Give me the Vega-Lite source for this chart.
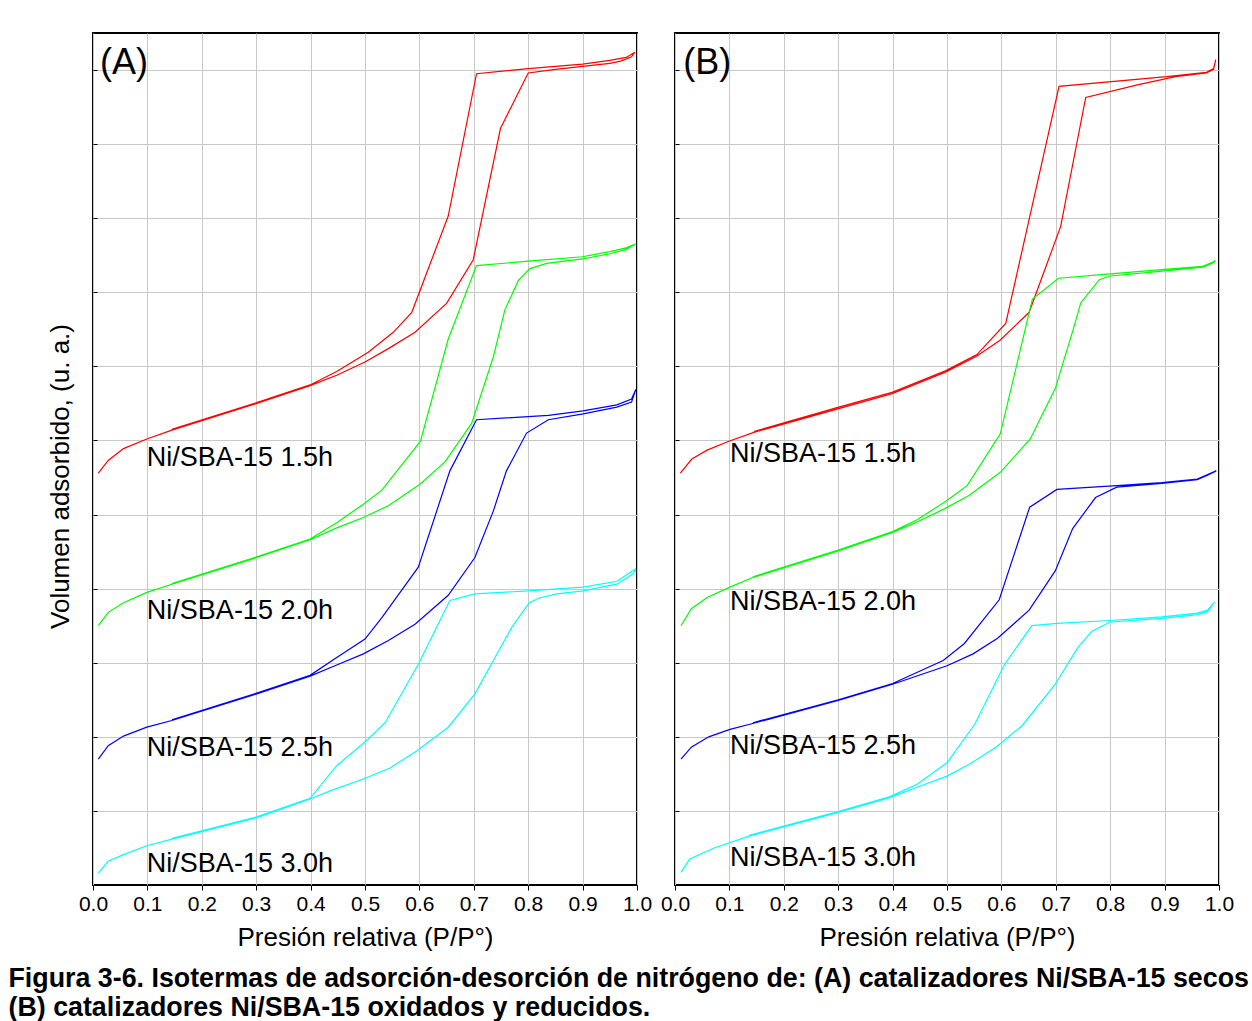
{
  "$schema": "https://vega.github.io/schema/vega-lite/v6.json",
  "background": "white",
  "padding": {"left": 8, "top": 32, "right": 0, "bottom": 4},
  "datasets": {
    "iso": [
      {"p":"A","s":"1.5h","x":0.0098,"y":5.56},{"p":"A","s":"1.5h","x":0.028,"y":5.73},{"p":"A","s":"1.5h","x":0.056,"y":5.89},{"p":"A","s":"1.5h","x":0.099,"y":6.02},{"p":"A","s":"1.5h","x":0.145,"y":6.14},{"p":"A","s":"1.5h","x":0.301,"y":6.50},{"p":"A","s":"1.5h","x":0.399,"y":6.74},{"p":"A","s":"1.5h","x":0.448,"y":6.88},{"p":"A","s":"1.5h","x":0.5,"y":7.06},{"p":"A","s":"1.5h","x":0.543,"y":7.24},{"p":"A","s":"1.5h","x":0.592,"y":7.46},{"p":"A","s":"1.5h","x":0.65,"y":7.85},{"p":"A","s":"1.5h","x":0.699,"y":8.44},{"p":"A","s":"1.5h","x":0.749,"y":10.21},{"p":"A","s":"1.5h","x":0.80,"y":10.96},{"p":"A","s":"1.5h","x":0.85,"y":11.01},{"p":"A","s":"1.5h","x":0.90,"y":11.05},{"p":"A","s":"1.5h","x":0.95,"y":11.09},{"p":"A","s":"1.5h","x":0.97,"y":11.12},{"p":"A","s":"1.5h","x":0.99,"y":11.18},{"p":"A","s":"1.5h","x":0.996,"y":11.24},
      {"p":"A","s":"1.5h","x":0.98,"y":11.17},{"p":"A","s":"1.5h","x":0.95,"y":11.13},{"p":"A","s":"1.5h","x":0.90,"y":11.08},{"p":"A","s":"1.5h","x":0.80,"y":11.02},{"p":"A","s":"1.5h","x":0.705,"y":10.95},{"p":"A","s":"1.5h","x":0.653,"y":9.03},{"p":"A","s":"1.5h","x":0.586,"y":7.73},{"p":"A","s":"1.5h","x":0.552,"y":7.46},{"p":"A","s":"1.5h","x":0.506,"y":7.19},{"p":"A","s":"1.5h","x":0.448,"y":6.93},{"p":"A","s":"1.5h","x":0.399,"y":6.75},{"p":"A","s":"1.5h","x":0.301,"y":6.51},{"p":"A","s":"1.5h","x":0.145,"y":6.15},

      {"p":"A","s":"2.0h","x":0.0098,"y":3.50},{"p":"A","s":"2.0h","x":0.028,"y":3.68},{"p":"A","s":"2.0h","x":0.056,"y":3.81},{"p":"A","s":"2.0h","x":0.099,"y":3.95},{"p":"A","s":"2.0h","x":0.145,"y":4.06},{"p":"A","s":"2.0h","x":0.301,"y":4.42},{"p":"A","s":"2.0h","x":0.399,"y":4.66},{"p":"A","s":"2.0h","x":0.448,"y":4.82},{"p":"A","s":"2.0h","x":0.497,"y":4.96},{"p":"A","s":"2.0h","x":0.543,"y":5.12},{"p":"A","s":"2.0h","x":0.601,"y":5.41},{"p":"A","s":"2.0h","x":0.647,"y":5.71},{"p":"A","s":"2.0h","x":0.696,"y":6.23},{"p":"A","s":"2.0h","x":0.736,"y":7.13},{"p":"A","s":"2.0h","x":0.757,"y":7.76},{"p":"A","s":"2.0h","x":0.782,"y":8.16},{"p":"A","s":"2.0h","x":0.803,"y":8.32},{"p":"A","s":"2.0h","x":0.834,"y":8.39},{"p":"A","s":"2.0h","x":0.90,"y":8.45},{"p":"A","s":"2.0h","x":0.95,"y":8.52},{"p":"A","s":"2.0h","x":0.98,"y":8.58},{"p":"A","s":"2.0h","x":0.997,"y":8.65},
      {"p":"A","s":"2.0h","x":0.98,"y":8.60},{"p":"A","s":"2.0h","x":0.95,"y":8.55},{"p":"A","s":"2.0h","x":0.90,"y":8.48},{"p":"A","s":"2.0h","x":0.80,"y":8.42},{"p":"A","s":"2.0h","x":0.705,"y":8.36},{"p":"A","s":"2.0h","x":0.653,"y":7.37},{"p":"A","s":"2.0h","x":0.602,"y":5.99},{"p":"A","s":"2.0h","x":0.531,"y":5.33},{"p":"A","s":"2.0h","x":0.497,"y":5.14},{"p":"A","s":"2.0h","x":0.448,"y":4.89},{"p":"A","s":"2.0h","x":0.399,"y":4.67},{"p":"A","s":"2.0h","x":0.301,"y":4.43},{"p":"A","s":"2.0h","x":0.145,"y":4.07},

      {"p":"A","s":"2.5h","x":0.0098,"y":1.70},{"p":"A","s":"2.5h","x":0.028,"y":1.88},{"p":"A","s":"2.5h","x":0.056,"y":2.01},{"p":"A","s":"2.5h","x":0.099,"y":2.13},{"p":"A","s":"2.5h","x":0.145,"y":2.22},{"p":"A","s":"2.5h","x":0.301,"y":2.58},{"p":"A","s":"2.5h","x":0.399,"y":2.82},{"p":"A","s":"2.5h","x":0.448,"y":2.97},{"p":"A","s":"2.5h","x":0.497,"y":3.12},{"p":"A","s":"2.5h","x":0.543,"y":3.30},{"p":"A","s":"2.5h","x":0.592,"y":3.52},{"p":"A","s":"2.5h","x":0.653,"y":3.91},{"p":"A","s":"2.5h","x":0.702,"y":4.42},{"p":"A","s":"2.5h","x":0.736,"y":5.05},{"p":"A","s":"2.5h","x":0.760,"y":5.59},{"p":"A","s":"2.5h","x":0.797,"y":6.10},{"p":"A","s":"2.5h","x":0.837,"y":6.28},{"p":"A","s":"2.5h","x":0.901,"y":6.36},{"p":"A","s":"2.5h","x":0.963,"y":6.45},{"p":"A","s":"2.5h","x":0.99,"y":6.52},{"p":"A","s":"2.5h","x":0.998,"y":6.69},
      {"p":"A","s":"2.5h","x":0.99,"y":6.56},{"p":"A","s":"2.5h","x":0.963,"y":6.48},{"p":"A","s":"2.5h","x":0.901,"y":6.40},{"p":"A","s":"2.5h","x":0.837,"y":6.34},{"p":"A","s":"2.5h","x":0.705,"y":6.28},{"p":"A","s":"2.5h","x":0.656,"y":5.59},{"p":"A","s":"2.5h","x":0.598,"y":4.29},{"p":"A","s":"2.5h","x":0.531,"y":3.61},{"p":"A","s":"2.5h","x":0.5,"y":3.32},{"p":"A","s":"2.5h","x":0.448,"y":3.07},{"p":"A","s":"2.5h","x":0.399,"y":2.83},{"p":"A","s":"2.5h","x":0.301,"y":2.59},{"p":"A","s":"2.5h","x":0.145,"y":2.23},

      {"p":"A","s":"3.0h","x":0.0098,"y":0.165},{"p":"A","s":"3.0h","x":0.028,"y":0.32},{"p":"A","s":"3.0h","x":0.056,"y":0.41},{"p":"A","s":"3.0h","x":0.099,"y":0.53},{"p":"A","s":"3.0h","x":0.145,"y":0.62},{"p":"A","s":"3.0h","x":0.301,"y":0.91},{"p":"A","s":"3.0h","x":0.399,"y":1.16},{"p":"A","s":"3.0h","x":0.436,"y":1.27},{"p":"A","s":"3.0h","x":0.497,"y":1.43},{"p":"A","s":"3.0h","x":0.546,"y":1.58},{"p":"A","s":"3.0h","x":0.595,"y":1.81},{"p":"A","s":"3.0h","x":0.653,"y":2.13},{"p":"A","s":"3.0h","x":0.702,"y":2.58},{"p":"A","s":"3.0h","x":0.736,"y":3.03},{"p":"A","s":"3.0h","x":0.770,"y":3.48},{"p":"A","s":"3.0h","x":0.802,"y":3.81},{"p":"A","s":"3.0h","x":0.819,"y":3.87},{"p":"A","s":"3.0h","x":0.852,"y":3.93},{"p":"A","s":"3.0h","x":0.901,"y":3.97},{"p":"A","s":"3.0h","x":0.963,"y":4.06},{"p":"A","s":"3.0h","x":0.993,"y":4.20},{"p":"A","s":"3.0h","x":0.998,"y":4.27},
      {"p":"A","s":"3.0h","x":0.99,"y":4.23},{"p":"A","s":"3.0h","x":0.963,"y":4.10},{"p":"A","s":"3.0h","x":0.901,"y":4.02},{"p":"A","s":"3.0h","x":0.80,"y":3.97},{"p":"A","s":"3.0h","x":0.702,"y":3.93},{"p":"A","s":"3.0h","x":0.656,"y":3.84},{"p":"A","s":"3.0h","x":0.598,"y":2.98},{"p":"A","s":"3.0h","x":0.537,"y":2.19},{"p":"A","s":"3.0h","x":0.503,"y":1.95},{"p":"A","s":"3.0h","x":0.448,"y":1.61},{"p":"A","s":"3.0h","x":0.399,"y":1.17},{"p":"A","s":"3.0h","x":0.301,"y":0.92},{"p":"A","s":"3.0h","x":0.145,"y":0.63},

      {"p":"B","s":"1.5h","x":0.0098,"y":5.56},{"p":"B","s":"1.5h","x":0.031,"y":5.75},{"p":"B","s":"1.5h","x":0.059,"y":5.87},{"p":"B","s":"1.5h","x":0.099,"y":5.99},{"p":"B","s":"1.5h","x":0.145,"y":6.11},{"p":"B","s":"1.5h","x":0.301,"y":6.43},{"p":"B","s":"1.5h","x":0.399,"y":6.63},{"p":"B","s":"1.5h","x":0.497,"y":6.92},{"p":"B","s":"1.5h","x":0.555,"y":7.14},{"p":"B","s":"1.5h","x":0.597,"y":7.35},{"p":"B","s":"1.5h","x":0.651,"y":7.73},{"p":"B","s":"1.5h","x":0.709,"y":8.89},{"p":"B","s":"1.5h","x":0.755,"y":10.63},{"p":"B","s":"1.5h","x":0.85,"y":10.80},{"p":"B","s":"1.5h","x":0.92,"y":10.91},{"p":"B","s":"1.5h","x":0.977,"y":10.96},{"p":"B","s":"1.5h","x":0.99,"y":11.01},{"p":"B","s":"1.5h","x":0.994,"y":11.14},
      {"p":"B","s":"1.5h","x":0.99,"y":11.02},{"p":"B","s":"1.5h","x":0.977,"y":10.97},{"p":"B","s":"1.5h","x":0.904,"y":10.91},{"p":"B","s":"1.5h","x":0.706,"y":10.78},{"p":"B","s":"1.5h","x":0.608,"y":7.58},{"p":"B","s":"1.5h","x":0.555,"y":7.16},{"p":"B","s":"1.5h","x":0.497,"y":6.94},{"p":"B","s":"1.5h","x":0.399,"y":6.65},{"p":"B","s":"1.5h","x":0.301,"y":6.45},{"p":"B","s":"1.5h","x":0.145,"y":6.12},

      {"p":"B","s":"2.0h","x":0.011,"y":3.50},{"p":"B","s":"2.0h","x":0.030,"y":3.73},{"p":"B","s":"2.0h","x":0.059,"y":3.88},{"p":"B","s":"2.0h","x":0.101,"y":4.02},{"p":"B","s":"2.0h","x":0.143,"y":4.15},{"p":"B","s":"2.0h","x":0.300,"y":4.51},{"p":"B","s":"2.0h","x":0.400,"y":4.76},{"p":"B","s":"2.0h","x":0.445,"y":4.90},{"p":"B","s":"2.0h","x":0.496,"y":5.08},{"p":"B","s":"2.0h","x":0.541,"y":5.26},{"p":"B","s":"2.0h","x":0.598,"y":5.57},{"p":"B","s":"2.0h","x":0.653,"y":6.02},{"p":"B","s":"2.0h","x":0.699,"y":6.70},{"p":"B","s":"2.0h","x":0.732,"y":7.50},{"p":"B","s":"2.0h","x":0.746,"y":7.86},{"p":"B","s":"2.0h","x":0.780,"y":8.17},{"p":"B","s":"2.0h","x":0.80,"y":8.22},{"p":"B","s":"2.0h","x":0.90,"y":8.29},{"p":"B","s":"2.0h","x":0.97,"y":8.34},{"p":"B","s":"2.0h","x":0.99,"y":8.40},{"p":"B","s":"2.0h","x":0.993,"y":8.43},
      {"p":"B","s":"2.0h","x":0.99,"y":8.41},{"p":"B","s":"2.0h","x":0.97,"y":8.35},{"p":"B","s":"2.0h","x":0.90,"y":8.31},{"p":"B","s":"2.0h","x":0.80,"y":8.25},{"p":"B","s":"2.0h","x":0.705,"y":8.19},{"p":"B","s":"2.0h","x":0.657,"y":7.91},{"p":"B","s":"2.0h","x":0.598,"y":6.09},{"p":"B","s":"2.0h","x":0.537,"y":5.39},{"p":"B","s":"2.0h","x":0.496,"y":5.17},{"p":"B","s":"2.0h","x":0.445,"y":4.93},{"p":"B","s":"2.0h","x":0.400,"y":4.77},{"p":"B","s":"2.0h","x":0.300,"y":4.52},{"p":"B","s":"2.0h","x":0.143,"y":4.16},

      {"p":"B","s":"2.5h","x":0.011,"y":1.70},{"p":"B","s":"2.5h","x":0.030,"y":1.86},{"p":"B","s":"2.5h","x":0.062,"y":2.00},{"p":"B","s":"2.5h","x":0.101,"y":2.10},{"p":"B","s":"2.5h","x":0.143,"y":2.18},{"p":"B","s":"2.5h","x":0.300,"y":2.49},{"p":"B","s":"2.5h","x":0.400,"y":2.71},{"p":"B","s":"2.5h","x":0.500,"y":2.96},{"p":"B","s":"2.5h","x":0.548,"y":3.12},{"p":"B","s":"2.5h","x":0.593,"y":3.33},{"p":"B","s":"2.5h","x":0.651,"y":3.71},{"p":"B","s":"2.5h","x":0.699,"y":4.24},{"p":"B","s":"2.5h","x":0.731,"y":4.81},{"p":"B","s":"2.5h","x":0.773,"y":5.23},{"p":"B","s":"2.5h","x":0.812,"y":5.37},{"p":"B","s":"2.5h","x":0.895,"y":5.42},{"p":"B","s":"2.5h","x":0.96,"y":5.47},{"p":"B","s":"2.5h","x":0.979,"y":5.53},{"p":"B","s":"2.5h","x":0.995,"y":5.59},
      {"p":"B","s":"2.5h","x":0.979,"y":5.54},{"p":"B","s":"2.5h","x":0.96,"y":5.48},{"p":"B","s":"2.5h","x":0.895,"y":5.43},{"p":"B","s":"2.5h","x":0.812,"y":5.39},{"p":"B","s":"2.5h","x":0.702,"y":5.34},{"p":"B","s":"2.5h","x":0.652,"y":5.10},{"p":"B","s":"2.5h","x":0.596,"y":3.85},{"p":"B","s":"2.5h","x":0.532,"y":3.26},{"p":"B","s":"2.5h","x":0.493,"y":3.03},{"p":"B","s":"2.5h","x":0.400,"y":2.72},{"p":"B","s":"2.5h","x":0.300,"y":2.50},{"p":"B","s":"2.5h","x":0.143,"y":2.19},

      {"p":"B","s":"3.0h","x":0.011,"y":0.17},{"p":"B","s":"3.0h","x":0.027,"y":0.35},{"p":"B","s":"3.0h","x":0.072,"y":0.50},{"p":"B","s":"3.0h","x":0.136,"y":0.66},{"p":"B","s":"3.0h","x":0.300,"y":0.98},{"p":"B","s":"3.0h","x":0.394,"y":1.18},{"p":"B","s":"3.0h","x":0.445,"y":1.32},{"p":"B","s":"3.0h","x":0.500,"y":1.47},{"p":"B","s":"3.0h","x":0.541,"y":1.63},{"p":"B","s":"3.0h","x":0.590,"y":1.86},{"p":"B","s":"3.0h","x":0.638,"y":2.15},{"p":"B","s":"3.0h","x":0.699,"y":2.71},{"p":"B","s":"3.0h","x":0.741,"y":3.21},{"p":"B","s":"3.0h","x":0.767,"y":3.43},{"p":"B","s":"3.0h","x":0.80,"y":3.55},{"p":"B","s":"3.0h","x":0.895,"y":3.60},{"p":"B","s":"3.0h","x":0.96,"y":3.65},{"p":"B","s":"3.0h","x":0.979,"y":3.69},{"p":"B","s":"3.0h","x":0.992,"y":3.82},
      {"p":"B","s":"3.0h","x":0.979,"y":3.71},{"p":"B","s":"3.0h","x":0.96,"y":3.67},{"p":"B","s":"3.0h","x":0.895,"y":3.62},{"p":"B","s":"3.0h","x":0.80,"y":3.57},{"p":"B","s":"3.0h","x":0.702,"y":3.53},{"p":"B","s":"3.0h","x":0.656,"y":3.50},{"p":"B","s":"3.0h","x":0.606,"y":2.98},{"p":"B","s":"3.0h","x":0.551,"y":2.17},{"p":"B","s":"3.0h","x":0.500,"y":1.65},{"p":"B","s":"3.0h","x":0.445,"y":1.36},{"p":"B","s":"3.0h","x":0.394,"y":1.19},{"p":"B","s":"3.0h","x":0.300,"y":0.99},{"p":"B","s":"3.0h","x":0.136,"y":0.67}
    ],
    "lab": [
      {"p":"A","k":"panel","t":"(A)","x":0.013,"y":11.09},
      {"p":"A","k":"serie","t":"Ni/SBA-15 1.5h","x":0.099,"y":5.77},
      {"p":"A","k":"serie","t":"Ni/SBA-15 2.0h","x":0.099,"y":3.70},
      {"p":"A","k":"serie","t":"Ni/SBA-15 2.5h","x":0.099,"y":1.85},
      {"p":"A","k":"serie","t":"Ni/SBA-15 3.0h","x":0.099,"y":0.28},
      {"p":"B","k":"panel","t":"(B)","x":0.015,"y":11.09},
      {"p":"B","k":"serie","t":"Ni/SBA-15 1.5h","x":0.101,"y":5.82},
      {"p":"B","k":"serie","t":"Ni/SBA-15 2.0h","x":0.101,"y":3.82},
      {"p":"B","k":"serie","t":"Ni/SBA-15 2.5h","x":0.101,"y":1.88},
      {"p":"B","k":"serie","t":"Ni/SBA-15 3.0h","x":0.101,"y":0.365}
    ]
  },
  "hconcat": [
    {
      "width": 544, "height": 852,
      "layer": [
        {
          "data": {"name": "iso"},
          "transform": [{"filter": "datum.p == 'A'"}],
          "mark": {"type": "line", "strokeWidth": 1.2, "clip": true},
          "encoding": {
            "x": {"field": "x", "type": "quantitative", "scale": {"domain": [0, 1], "nice": false},
                  "axis": {"title": "Presión relativa (P/P°)", "values": [0,0.1,0.2,0.3,0.4,0.5,0.6,0.7,0.8,0.9,1.0], "format": ".1f"}},
            "y": {"field": "y", "type": "quantitative", "scale": {"domain": [0, 11.5], "nice": false, "zero": false},
                  "axis": {"title": "Volumen adsorbido, (u. a.)", "values": [1,2,3,4,5,6,7,8,9,10,11], "labels": false, "tickSize": -4, "titlePadding": 19, "titleY": 443}},
            "color": {"field": "s", "type": "nominal", "scale": {"domain": ["1.5h","2.0h","2.5h","3.0h"], "range": ["#ff0000","#00ff00","#0000ff","#00ffff"]}, "legend": null},
            "order": {"value": null}
          }
        },
        {
          "data": {"name": "lab"},
          "transform": [{"filter": "datum.p == 'A' && datum.k == 'serie'"}],
          "mark": {"type": "text", "align": "left", "baseline": "middle", "fontSize": 27, "font": "Liberation Sans", "color": "black"},
          "encoding": {"x": {"field": "x", "type": "quantitative"}, "y": {"field": "y", "type": "quantitative"}, "text": {"field": "t"}}
        },
        {
          "data": {"name": "lab"},
          "transform": [{"filter": "datum.p == 'A' && datum.k == 'panel'"}],
          "mark": {"type": "text", "align": "left", "baseline": "middle", "fontSize": 36, "font": "Liberation Sans", "color": "black"},
          "encoding": {"x": {"field": "x", "type": "quantitative"}, "y": {"field": "y", "type": "quantitative"}, "text": {"field": "t"}}
        }
      ]
    },
    {
      "width": 544, "height": 852,
      "layer": [
        {
          "data": {"name": "iso"},
          "transform": [{"filter": "datum.p == 'B'"}],
          "mark": {"type": "line", "strokeWidth": 1.2, "clip": true},
          "encoding": {
            "x": {"field": "x", "type": "quantitative", "scale": {"domain": [0, 1], "nice": false},
                  "axis": {"title": "Presión relativa (P/P°)", "values": [0,0.1,0.2,0.3,0.4,0.5,0.6,0.7,0.8,0.9,1.0], "format": ".1f"}},
            "y": {"field": "y", "type": "quantitative", "scale": {"domain": [0, 11.5], "nice": false, "zero": false},
                  "axis": {"title": null, "values": [1,2,3,4,5,6,7,8,9,10,11], "labels": false, "tickSize": -4}},
            "color": {"field": "s", "type": "nominal", "scale": {"domain": ["1.5h","2.0h","2.5h","3.0h"], "range": ["#ff0000","#00ff00","#0000ff","#00ffff"]}, "legend": null},
            "order": {"value": null}
          }
        },
        {
          "data": {"name": "lab"},
          "transform": [{"filter": "datum.p == 'B' && datum.k == 'serie'"}],
          "mark": {"type": "text", "align": "left", "baseline": "middle", "fontSize": 27, "font": "Liberation Sans", "color": "black"},
          "encoding": {"x": {"field": "x", "type": "quantitative"}, "y": {"field": "y", "type": "quantitative"}, "text": {"field": "t"}}
        },
        {
          "data": {"name": "lab"},
          "transform": [{"filter": "datum.p == 'B' && datum.k == 'panel'"}],
          "mark": {"type": "text", "align": "left", "baseline": "middle", "fontSize": 36, "font": "Liberation Sans", "color": "black"},
          "encoding": {"x": {"field": "x", "type": "quantitative"}, "y": {"field": "y", "type": "quantitative"}, "text": {"field": "t"}}
        }
      ]
    }
  ],
  "spacing": 38,
  "bounds": "flush",
  "title": {
    "text": ["Figura 3-6. Isotermas de adsorción-desorción de nitrógeno de: (A) catalizadores Ni/SBA-15 secos", "(B) catalizadores Ni/SBA-15 oxidados y reducidos."],
    "orient": "bottom", "anchor": "start", "frame": "bounds", "dx": -38, "offset": 15,
    "fontSize": 26.8, "fontWeight": "bold", "font": "Liberation Sans", "color": "black", "lineHeight": 29
  },
  "config": {
    "view": {"stroke": "black", "strokeWidth": 2},
    "font": "Liberation Sans",
    "axis": {
      "domain": false, "grid": true, "gridColor": "#c8c8c8", "gridWidth": 1,
      "tickColor": "black", "labelColor": "black", "titleColor": "black",
      "labelFont": "Liberation Sans", "titleFont": "Liberation Sans", "titleFontWeight": "normal",
      "labelFontSize": 21, "titleFontSize": 26
    },
    "axisX": {"tickSize": 5, "labelPadding": 3, "titlePadding": 10, "labelFlush": false, "labelOverlap": false, "labelBound": false}
  }
}
